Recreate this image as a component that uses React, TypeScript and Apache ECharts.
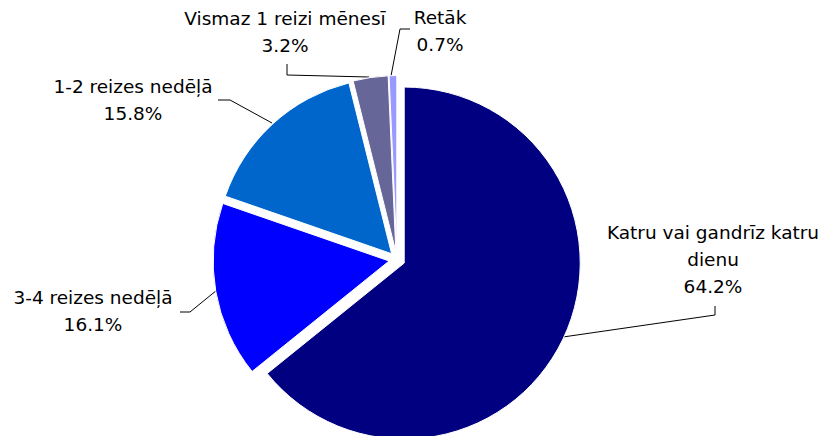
import React, { useEffect, useRef } from "react";
import * as echarts from "echarts";

const categories = [
  "Katru vai gandrīz katru dienu",
  "3-4 reizes nedēļā",
  "1-2 reizes nedēļā",
  "Vismaz 1 reizi mēnesī",
  "Retāk",
];
const shares = [64.2, 16.1, 15.8, 3.2, 0.7];
const colors = ["#000080", "#0000FF", "#0066CC", "#666699", "#9999FF"];

// label layout (block centre + leader line points), per slice
const labelCenters: [number, number][] = [
  [713, 259],
  [93, 311],
  [133, 100],
  [285, 32],
  [440, 31],
];
const leaderLines: [number, number][][] = [
  [[563, 337], [715, 315], [715, 306]],
  [[217, 290], [190, 312], [180, 312]],
  [[272, 123], [230, 100], [218, 100]],
  [[369, 77], [287, 75], [287, 64]],
  [[391, 76], [400, 29], [410, 29]],
];

function wrap(name: string, maxChars: number) {
  const words = name.split(" ");
  const lines: string[] = [];
  let cur = "";
  for (const w of words) {
    const next = cur ? cur + " " + w : w;
    if (next.length > maxChars && cur) {
      lines.push(cur);
      cur = w;
    } else cur = next;
  }
  if (cur) lines.push(cur);
  return lines.join("\n");
}

export default function App() {
  const ref = useRef<HTMLDivElement>(null);
  useEffect(() => {
    document.body.style.margin = "0";
    const chart = echarts.init(ref.current!, null, { renderer: "svg" });
    const sliceData = categories.map((name, i) => ({
      name,
      value: shares[i],
      selected: true,
      itemStyle: { color: colors[i] },
      select: { itemStyle: { color: colors[i], borderColor: "#fff", borderWidth: 1 } },
    }));
    const labelData = categories.map((name, i) => ({ name, value: shares[i] }));
    const common = {
      type: "pie",
      center: [397, 259.6],
      radius: 176,
      startAngle: 90,
      clockwise: true,
      emphasis: { disabled: true },
      silent: true,
    };
    chart.setOption({
      animation: false,
      backgroundColor: "#ffffff",
      series: [
        {
          ...common,
          selectedMode: "multiple",
          selectedOffset: 8,
          itemStyle: { borderColor: "#fff", borderWidth: 1 },
          label: { show: false },
          labelLine: { show: false },
          select: { label: { show: false }, labelLine: { show: false } },
          data: sliceData,
        },
        {
          ...common,
          selectedMode: false,
          avoidLabelOverlap: false,
          itemStyle: { color: "rgba(0,0,0,0)", borderWidth: 0 },
          label: {
            show: true,
            fontFamily: "DejaVu Sans",
            fontSize: 18.5,
            lineHeight: 27,
            color: "#000",
            align: "center",
            formatter: (p: any) => `${wrap(p.name, 23)}\n${Number(p.value).toFixed(1)}%`,
          },
          labelLine: { show: true, lineStyle: { color: "#000", width: 1 } },
          labelLayout: (params: any) => {
            const i = params.dataIndex;
            return {
              x: labelCenters[i][0],
              y: labelCenters[i][1],
              align: "center",
              verticalAlign: "middle",
              labelLinePoints: leaderLines[i],
            };
          },
          data: labelData,
        },
      ],
    });
    return () => chart.dispose();
  }, []);
  return <div ref={ref} style={{ width: 827, height: 436 }} />;
}
